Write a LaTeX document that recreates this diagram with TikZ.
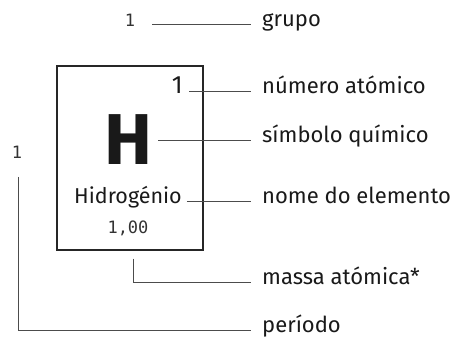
\documentclass[tikz,border=0pt]{standalone}
\usepackage{fontspec}
\setmainfont{Fira Sans}
\setmonofont{DejaVu Sans Mono}
\usetikzlibrary{positioning}

\begin{document}
\begin{tikzpicture}[
    x=1pt, y=-1pt,
    % define styles
    tag/.style={
        anchor=mid west,
        inner sep=0pt,
        text=black!90,
        font=\fontsize{22}{24}\selectfont
    },
    small/.style={
        inner sep=0pt,
        text=black!80,
        font=\ttfamily\fontsize{17}{19}\selectfont
    },
    lead/.style={
        draw=black!70,
        line width=0.8pt
    }
]
\useasboundingbox (0,0) rectangle (459,343);

% the element cell
\node[draw=black!85, line width=1.5pt, anchor=north west,
      minimum width=146pt, minimum height=184pt] (cell) at (56,65) {};
\node[inner sep=0pt, text=black!90, font=\bfseries\fontsize{72}{72}\selectfont] (sym) at (128,140) {H};
\node[inner sep=0pt, anchor=mid east, text=black!90, font=\fontsize{25}{27}\selectfont] (znum) at (183,91) {1};
\node[inner sep=0pt, anchor=mid, text=black!90, font=\fontsize{21.5}{23}\selectfont] (name) at (128,201) {Hidrogénio};
\node[small, anchor=mid] (mass) at (128,231) {1,00};

% group and period numbers
\node[small, anchor=mid] (grp) at (130,24) {1};
\node[small, anchor=mid] (per) at (17,156) {1};

% labels on the right
\node[tag] (grplbl) at (262,24) {grupo};
\node[tag] (znumlbl) at (262,91) {número atómico};
\node[tag] (symlbl) at (262,140) {símbolo químico};
\node[tag] (namelbl) at (262,201) {nome do elemento};
\node[tag] (masslbl) at (262,282) {massa atómica*};
\node[tag] (perlbl) at (262,330) {período};

% leaders
\draw[lead, shorten <=17pt, shorten >=11pt] (grp.mid east) -- (grplbl.mid west);
\draw[lead, shorten <=6pt, shorten >=11pt] (znum.mid east) -- (znumlbl.mid west);
\draw[lead, shorten >=11pt] (sym.east |- symlbl.mid west) ++(6,0) -- (symlbl.mid west);
\draw[lead, shorten <=5pt, shorten >=11pt] (name.mid east) -- (namelbl.mid west);
\draw[lead] ([shift={(4,8)}]cell.south) |- ([xshift=-11pt]masslbl.mid west);
\draw[lead] ([shift={(1,18)}]per.south) |- ([xshift=-11pt]perlbl.mid west);
\end{tikzpicture}
\end{document}
